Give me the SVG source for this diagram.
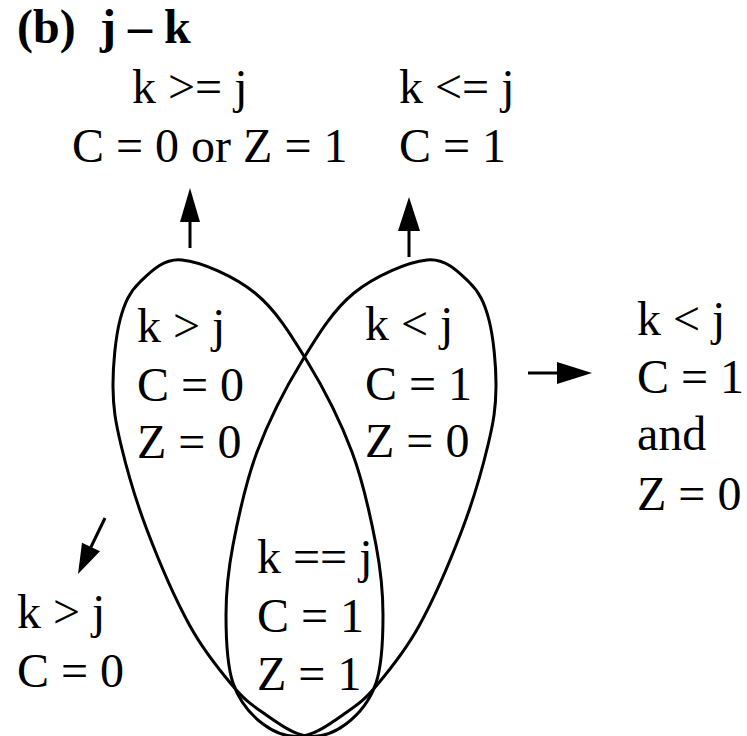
<svg xmlns="http://www.w3.org/2000/svg" width="747" height="736" viewBox="0 0 747 736">
<style>
text{font-family:"Liberation Serif","Times New Roman",serif;font-size:48px;fill:#000}
.title{font-weight:bold}
.shape{fill:none;stroke:#000;stroke-width:3}
.line{stroke:#000;stroke-width:3;fill:none}
.head{fill:#000;stroke:none}
</style>
<defs>
<path id="loop" d="M182,260 C201.2,261.8 234.2,276.2 255,293 C275.8,309.8 290.8,334.5 307,361 C323.2,387.5 340.5,421.3 352,452 C363.5,482.7 370.8,517.8 376,545 C381.2,572.2 383,592 383,615 C383,638 382.2,664.8 376,683 C369.8,701.2 357.7,715.2 346,724 C334.3,732.8 320,738 306,736 C292,734 274.3,720.5 262,712 C249.7,703.5 244,699.3 232,685 C220,670.7 204.2,651.8 190,626 C175.8,600.2 158.5,560.2 147,530 C135.5,499.8 126.7,468.8 121,445 C115.3,421.2 113.2,407.8 113,387 C112.8,366.2 115.5,337.5 120,320 C124.5,302.5 129.7,292 140,282 C150.3,272 162.8,258.2 182,260 Z"/>
</defs>
<rect width="747" height="736" fill="#fff"/>
<text class="title" x="17" y="43">(b)<tspan x="100">j – k</tspan></text>
<g id="left-set">
<use href="#loop" class="shape"/>
<text x="137" y="342">k &gt; j</text>
<text x="137" y="401">C = 0</text>
<text x="137" y="458">Z = 0</text>
</g>
<g id="right-set">
<use href="#loop" class="shape" transform="translate(609,0) scale(-1,1)"/>
<text x="365" y="340">k &lt; j</text>
<text x="365" y="400">C = 1</text>
<text x="365" y="457">Z = 0</text>
</g>
<g id="equal">
<text x="257" y="573">k == j</text>
<text x="257" y="632">C = 1</text>
<text x="257" y="690">Z = 1</text>
</g>
<g id="top-left">
<text x="132" y="103">k &gt;= j</text>
<text x="72" y="162">C = 0 or Z = 1</text>
</g>
<g id="top-right">
<text x="399" y="103">k &lt;= j</text>
<text x="399" y="162">C = 1</text>
</g>
<g id="right-result">
<text x="637" y="335">k &lt; j</text>
<text x="637" y="393">C = 1</text>
<text x="637" y="450">and</text>
<text x="637" y="510">Z = 0</text>
</g>
<g id="bottom-left">
<text x="17" y="628">k &gt; j</text>
<text x="17" y="687">C = 0</text>
</g>
<g id="connectors">
<path class="line" d="M190,248 L190,215"/>
<path class="head" d="M190,188 L180,222 L200,222 Z"/>
<path class="line" d="M409,257 L409,225"/>
<path class="head" d="M409,197 L398,231 L420,231 Z"/>
<path class="line" d="M528,373 L560,373"/>
<path class="head" d="M592,373 L557,362 L557,384 Z"/>
<path class="line" d="M105,518 L90,549"/>
<path class="head" d="M78,574 L100,551.3 L82,542.7 Z"/>
</g>
</svg>
